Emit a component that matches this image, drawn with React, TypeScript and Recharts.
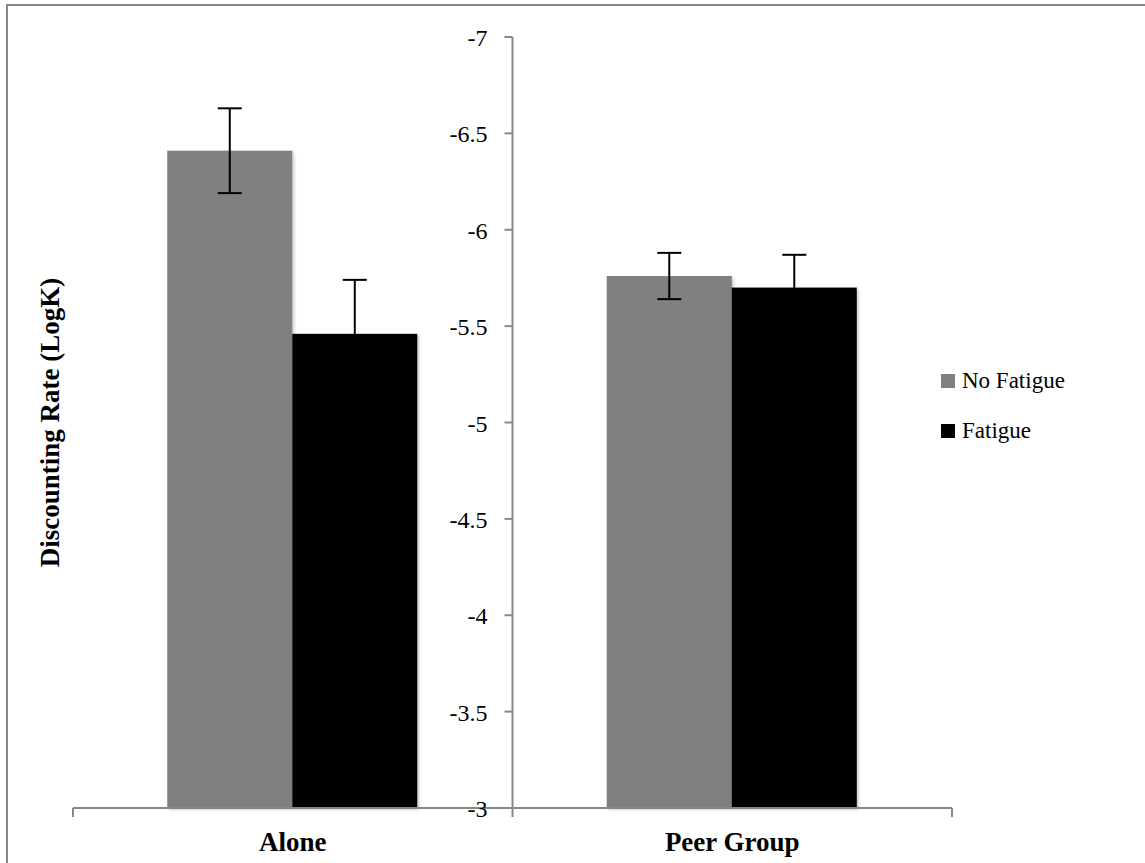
import React from 'react';
import { BarChart, Bar, XAxis, YAxis, ErrorBar, Legend, ReferenceLine } from 'recharts';

// group means and standard errors (LogK)
const categories = ['Alone', 'Peer Group'];
const noFatigue = [-6.41, -5.76];
const noFatigueErr = [0.22, 0.12];
const fatigue = [-5.46, -5.7];
const fatigueErr = [0.28, 0.17];
const yTicks = [-7, -6.5, -6, -5.5, -5, -4.5, -4, -3.5, -3];

const data = categories.map((name, i) => ({
  name,
  noFatigue: noFatigue[i],
  noFatigueErr: noFatigueErr[i],
  fatigue: fatigue[i],
  fatigueErr: fatigueErr[i],
}));

const W = 1145;
const H = 863;
const Y_AXIS_W = 73;
const margin = { top: 37, right: 193, bottom: 25, left: 0 };
const plotW = W - Y_AXIS_W - margin.left - margin.right;
const band = plotW / categories.length;
// value axis sits on the boundary between the two groups
const midX = margin.left + Y_AXIS_W + plotW / 2;

const FONT = '"Liberation Serif", "Times New Roman", serif';
const AXIS = '#878787';
const GRAY = '#808080';

const YTick = ({ y, payload }: any) => (
  <g>
    <line x1={midX - 8} x2={midX} y1={y} y2={y} stroke={AXIS} strokeWidth={2} />
    <text x={midX - 25} y={y} dy="0.38em" textAnchor="end" fontSize={24} fontFamily={FONT} fill="#000">
      {payload.value}
    </text>
  </g>
);

const XTick = ({ x, y, payload, index }: any) => (
  <g>
    <line x1={x - band / 2} x2={x - band / 2} y1={y} y2={y + 9} stroke={AXIS} strokeWidth={2} />
    {index === categories.length - 1 && (
      <line x1={x + band / 2} x2={x + band / 2} y1={y} y2={y + 9} stroke={AXIS} strokeWidth={2} />
    )}
    <text x={x} y={y + 42.5} textAnchor="middle" fontSize={27} fontWeight="bold" fontFamily={FONT} fill="#000">
      {payload.value}
    </text>
  </g>
);

const YTitle = ({ viewBox }: any) => {
  const cx = viewBox.x + viewBox.width - 14;
  const cy = viewBox.y + viewBox.height / 2;
  return (
    <text
      x={cx}
      y={cy}
      transform={`rotate(-90, ${cx}, ${cy})`}
      textAnchor="middle"
      fontSize={27}
      fontWeight="bold"
      fontFamily={FONT}
      fill="#000"
    >
      Discounting Rate (LogK)
    </text>
  );
};

// plain rectangle with a soft drop shadow
const ShadowBar = ({ x, y, width, height, fill }: any) => (
  <rect x={x} y={y} width={width} height={height} fill={fill} filter="url(#barShadow)" />
);

const legendItems = [
  { label: 'No Fatigue', color: GRAY },
  { label: 'Fatigue', color: '#000' },
];

const LegendBox = () => (
  <div style={{ fontFamily: FONT, fontSize: 23, color: '#000' }}>
    {legendItems.map((it) => (
      <div key={it.label} style={{ display: 'flex', alignItems: 'center', height: 50 }}>
        <span style={{ width: 14, height: 14, background: it.color, marginRight: 7, display: 'inline-block' }} />
        <span>{it.label}</span>
      </div>
    ))}
  </div>
);

export default function App() {
  return (
    <div style={{ position: 'absolute', left: 0, top: 0, width: W, height: H, overflow: 'hidden', background: '#fff' }}>
      <svg width={0} height={0} style={{ position: 'absolute' }}>
        <defs>
          <filter id="barShadow" x="-10%" y="-10%" width="120%" height="120%">
            <feDropShadow dx={1.5} dy={1.5} stdDeviation={1.5} floodColor="#000" floodOpacity={0.25} />
          </filter>
        </defs>
      </svg>
      <div
        style={{
          position: 'absolute',
          left: 6,
          top: 4,
          width: W + 50,
          height: H + 50,
          border: `2px solid ${AXIS}`,
        }}
      />
      <div style={{ position: 'absolute', left: 0, top: 0 }}>
        <BarChart width={W} height={H} data={data} margin={margin} barCategoryGap="21.45%" barGap={0}>
          <XAxis
            dataKey="name"
            height={30}
            axisLine={{ stroke: AXIS, strokeWidth: 2 }}
            tickLine={false}
            tickSize={0}
            tickMargin={0}
            interval={0}
            tick={<XTick />}
          />
          <YAxis
            type="number"
            width={Y_AXIS_W}
            domain={[-7, -3]}
            reversed
            ticks={yTicks}
            interval={0}
            axisLine={false}
            tickLine={false}
            tick={<YTick />}
            label={{ content: <YTitle /> }}
          />
          <ReferenceLine x="Alone" position="end" stroke={AXIS} strokeWidth={2} />
          <Bar dataKey="noFatigue" name="No Fatigue" fill={GRAY} shape={<ShadowBar />} isAnimationActive={false}>
            <ErrorBar dataKey="noFatigueErr" width={12} stroke="#000" strokeWidth={2} direction="y" />
          </Bar>
          <Bar dataKey="fatigue" name="Fatigue" fill="#000" shape={<ShadowBar />} isAnimationActive={false}>
            <ErrorBar dataKey="fatigueErr" width={12} stroke="#000" strokeWidth={2} direction="y" />
          </Bar>
          <Legend
            layout="horizontal"
            verticalAlign="middle"
            align="center"
            wrapperStyle={{ left: 941, top: 356, width: 180 }}
            content={<LegendBox />}
          />
        </BarChart>
      </div>
    </div>
  );
}
